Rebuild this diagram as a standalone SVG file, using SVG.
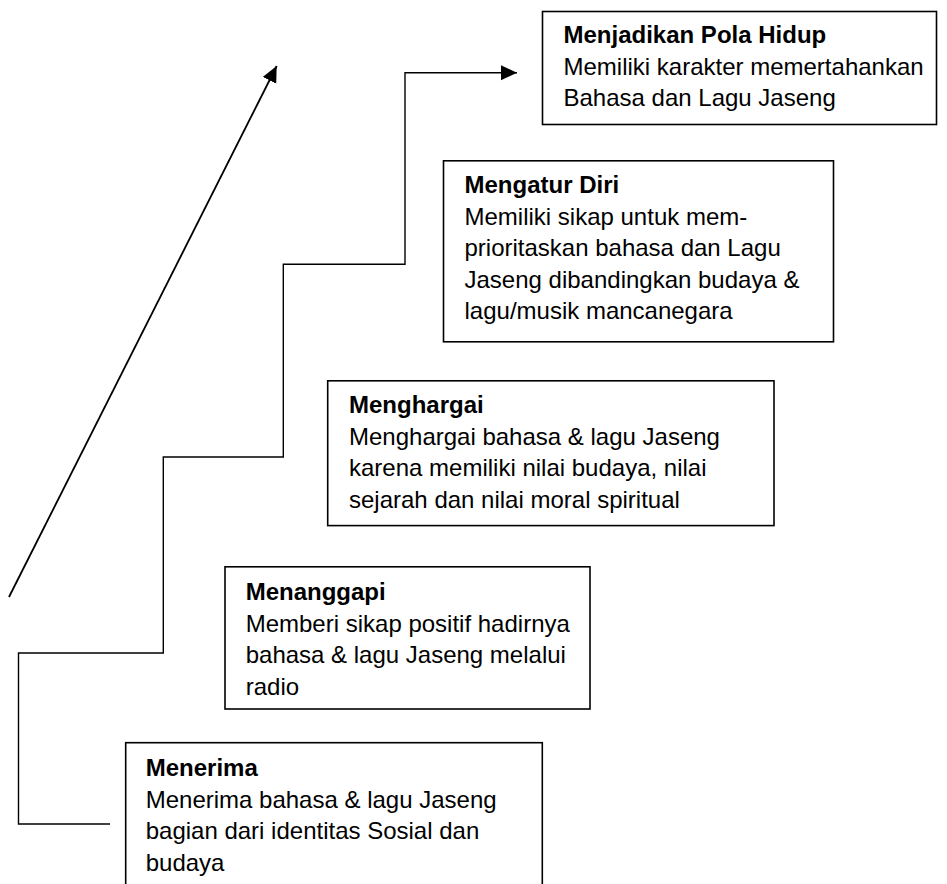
<svg xmlns="http://www.w3.org/2000/svg" width="947" height="884" viewBox="0 0 947 884">
<style>
  .box { fill: #ffffff; stroke: #000000; stroke-width: 1.6; }
  .h { font-family: "Liberation Sans", Arial, sans-serif; font-size: 24px; font-weight: bold; fill: #000000; }
  .t { font-family: "Liberation Sans", Arial, sans-serif; font-size: 24px; fill: #000000; }
  .line { fill: none; stroke: #000000; stroke-width: 1.4; }
  .diag { fill: none; stroke: #000000; stroke-width: 1.8; }
</style>
<defs>
  <marker id="arrow" markerUnits="userSpaceOnUse" markerWidth="17" markerHeight="16" refX="16" refY="7.5" orient="auto">
    <path d="M0,0 L16,7.5 L0,15 Z" fill="#000000"/>
  </marker>
</defs>
<rect width="947" height="884" fill="#ffffff"/>
<g id="connectors">
  <path class="diag" d="M9,597 L276.7,66" marker-end="url(#arrow)"/>
  <path class="line" d="M110,824 H18.5 V653 H163.3 V457 H283.3 V264.3 H405 V72.7 H517" marker-end="url(#arrow)"/>
</g>
<g id="node-menjadikan">
  <rect class="box" x="542.5" y="11.5" width="394" height="113"/>
  <text class="h" x="563.5" y="43">Menjadikan Pola Hidup</text>
  <text class="t" x="563.5" y="74.5">Memiliki karakter memertahankan</text>
  <text class="t" x="563.5" y="106">Bahasa dan Lagu Jaseng</text>
</g>
<g id="node-mengatur">
  <rect class="box" x="443.5" y="160.8" width="390" height="181"/>
  <text class="h" x="464.5" y="193">Mengatur Diri</text>
  <text class="t" x="464.5" y="224.5">Memiliki sikap untuk mem-</text>
  <text class="t" x="464.5" y="256">prioritaskan bahasa dan Lagu</text>
  <text class="t" x="464.5" y="287.5">Jaseng dibandingkan budaya &amp;</text>
  <text class="t" x="464.5" y="319">lagu/musik mancanegara</text>
</g>
<g id="node-menghargai">
  <rect class="box" x="327.7" y="380.8" width="446.3" height="144.8"/>
  <text class="h" x="349" y="413">Menghargai</text>
  <text class="t" x="349" y="444.5">Menghargai bahasa &amp; lagu Jaseng</text>
  <text class="t" x="349" y="476">karena memiliki nilai budaya, nilai</text>
  <text class="t" x="349" y="507.5">sejarah dan nilai moral spiritual</text>
</g>
<g id="node-menanggapi">
  <rect class="box" x="225" y="566.8" width="365" height="142.2"/>
  <text class="h" x="245.7" y="600">Menanggapi</text>
  <text class="t" x="245.7" y="631.5">Memberi sikap positif hadirnya</text>
  <text class="t" x="245.7" y="663">bahasa &amp; lagu Jaseng melalui</text>
  <text class="t" x="245.7" y="694.5">radio</text>
</g>
<g id="node-menerima">
  <rect class="box" x="125.7" y="742.7" width="416.6" height="160"/>
  <text class="h" x="145.7" y="776">Menerima</text>
  <text class="t" x="145.7" y="807.5">Menerima bahasa &amp; lagu Jaseng</text>
  <text class="t" x="145.7" y="839">bagian dari identitas Sosial dan</text>
  <text class="t" x="145.7" y="870.5">budaya</text>
</g>
</svg>
